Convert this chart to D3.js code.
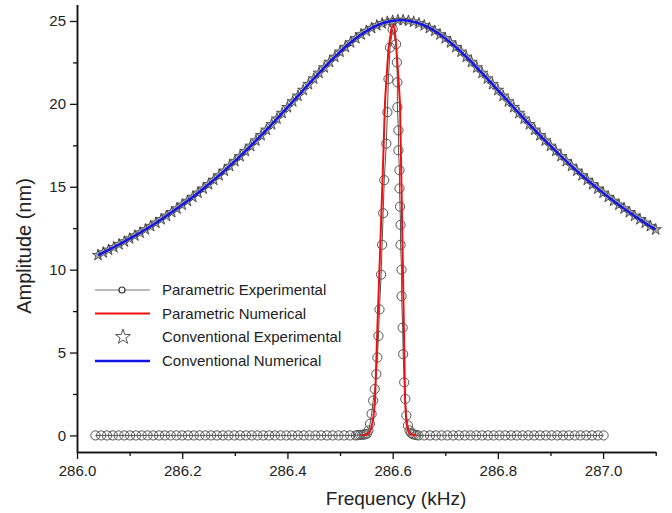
<!DOCTYPE html>
<html><head><meta charset="utf-8">
<script src="https://cdn.jsdelivr.net/npm/d3@7"></script>
<style>
body{margin:0;background:#fff;}
svg{display:block;font-family:"Liberation Sans",Arial,sans-serif;}
</style></head>
<body><svg id="chart" width="672" height="513"></svg>
<script>
// ---------- data ----------
const xMajorTicks = [286.0, 286.2, 286.4, 286.6, 286.8, 287.0];
const xMinorTicks = [286.1, 286.3, 286.5, 286.7, 286.9, 287.1];
const yMajorTicks = [0, 5, 10, 15, 20, 25];
const yMinorTicks = [2.5, 7.5, 12.5, 17.5, 22.5];

const legendLabels = ["Parametric Experimental", "Parametric Numerical", "Conventional Experimental", "Conventional Numerical"];

// Parametric experimental [frequency kHz, amplitude nm]
const paraExp = [
 [286.035,0],[286.046,0],[286.057,0],[286.068,0],[286.079,0],[286.090,0],[286.101,0],[286.112,0],[286.123,0],[286.134,0],
 [286.145,0],[286.156,0],[286.167,0],[286.178,0],[286.189,0],[286.200,0],[286.211,0],[286.222,0],[286.233,0],[286.244,0],
 [286.255,0],[286.266,0],[286.277,0],[286.288,0],[286.299,0],[286.310,0],[286.321,0],[286.332,0],[286.343,0],[286.354,0],
 [286.365,0],[286.376,0],[286.387,0],[286.398,0],[286.409,0],[286.420,0],[286.431,0],[286.442,0],[286.453,0],[286.464,0],
 [286.475,0],[286.486,0],[286.497,0],[286.508,0],[286.519,0],[286.530,0],
 [286.534,0.02],[286.538,0.03],[286.542,0.04],[286.545,0.05],[286.548,0.07],[286.551,0.1],[286.554,0.3],
 [286.557,0.7],[286.560,1.3],[286.563,2.1],[286.566,2.8],[286.569,3.7],[286.571,4.7],[286.573,6.0],[286.575,7.6],
 [286.578,9.7],[286.580,11.5],[286.582,13.4],[286.584,15.4],[286.588,17.6],[286.590,19.5],[286.592,21.5],[286.595,23.4],[286.600,24.5],
 [286.6065,23.6],[286.608,22.5],[286.609,21.3],[286.609,19.8],[286.611,18.4],[286.611,17.2],[286.613,16.0],[286.613,14.9],
 [286.614,13.8],[286.615,12.7],[286.615,11.5],[286.617,10.0],[286.617,8.4],[286.619,6.5],[286.620,4.9],[286.622,3.2],[286.624,2.2],
 [286.626,1.2],[286.629,0.6],[286.632,0.3],[286.635,0.15],[286.638,0.08],[286.641,0.05],[286.645,0.02],
 [286.649,0],[286.660,0],[286.671,0],[286.682,0],[286.693,0],[286.704,0],[286.715,0],[286.726,0],[286.737,0],[286.748,0],
 [286.759,0],[286.770,0],[286.781,0],[286.792,0],[286.803,0],[286.814,0],[286.825,0],[286.836,0],[286.847,0],[286.858,0],
 [286.869,0],[286.880,0],[286.891,0],[286.902,0],[286.913,0],[286.924,0],[286.935,0],[286.946,0],[286.957,0],[286.968,0],
 [286.979,0],[286.990,0],[287.001,0]
];

// Parametric numerical
const paraNum = [
 [286.540,0],[286.548,0.03],[286.555,0.15],[286.559,0.4],[286.563,1.0],[286.5665,2.1],[286.571,6.5],[286.576,11.0],
 [286.581,15.6],[286.5856,20.2],[286.592,23.3],[286.598,24.6],[286.601,24.75],[286.604,24.5],[286.607,23.4],[286.6105,21.8],
 [286.614,20.0],[286.6168,15.0],[286.6195,10.0],[286.6221,5.0],[286.6236,2.1],[286.626,0.8],[286.629,0.3],[286.633,0.1],
 [286.640,0.02],[286.645,0]
];

// Conventional experimental (stars)
const convExp = [
 [286.04,10.87],[286.05,11.03],[286.06,11.19],[286.07,11.35],[286.08,11.52],[286.09,11.69],[286.10,11.87],[286.11,12.05],
 [286.12,12.23],[286.13,12.42],[286.14,12.62],[286.15,12.82],[286.16,13.03],[286.17,13.24],[286.18,13.46],[286.19,13.68],
 [286.20,13.91],[286.21,14.14],[286.22,14.38],[286.23,14.63],[286.24,14.88],[286.25,15.14],[286.26,15.41],[286.27,15.68],
 [286.28,15.96],[286.29,16.25],[286.30,16.54],[286.31,16.84],[286.32,17.15],[286.33,17.46],[286.34,17.78],[286.35,18.10],
 [286.36,18.43],[286.37,18.76],[286.38,19.10],[286.39,19.44],[286.40,19.79],[286.41,20.14],[286.42,20.48],[286.43,20.83],
 [286.44,21.18],[286.45,21.52],[286.46,21.86],[286.47,22.19],[286.48,22.52],[286.49,22.83],[286.50,23.14],[286.51,23.42],
 [286.52,23.70],[286.53,23.95],[286.54,24.18],[286.55,24.39],[286.56,24.57],[286.57,24.73],[286.58,24.85],[286.59,24.95],
 [286.60,25.01],[286.61,25.05],[286.62,25.05],[286.63,25.01],[286.64,24.95],[286.65,24.85],[286.66,24.73],[286.67,24.57],
 [286.68,24.39],[286.69,24.18],[286.70,23.95],[286.71,23.70],[286.72,23.42],[286.73,23.14],[286.74,22.83],[286.75,22.52],
 [286.76,22.19],[286.77,21.86],[286.78,21.52],[286.79,21.18],[286.80,20.83],[286.81,20.48],[286.82,20.14],[286.83,19.79],
 [286.84,19.44],[286.85,19.10],[286.86,18.76],[286.87,18.43],[286.88,18.10],[286.89,17.78],[286.90,17.46],[286.91,17.15],
 [286.92,16.84],[286.93,16.54],[286.94,16.25],[286.95,15.96],[286.96,15.68],[286.97,15.41],[286.98,15.14],[286.99,14.88],
 [287.00,14.63],[287.01,14.38],[287.02,14.14],[287.03,13.91],[287.04,13.68],[287.05,13.46],[287.06,13.24],[287.07,13.03],
 [287.08,12.82],[287.09,12.62],[287.10,12.42]
];

// Conventional numerical (blue line)
const convNum = [
 [286.04,10.87],[286.06,11.19],[286.08,11.52],[286.10,11.87],[286.12,12.23],[286.14,12.62],[286.16,13.03],[286.18,13.46],
 [286.20,13.91],[286.22,14.38],[286.24,14.88],[286.26,15.41],[286.28,15.96],[286.30,16.54],[286.32,17.15],[286.34,17.78],
 [286.36,18.43],[286.38,19.10],[286.40,19.79],[286.42,20.48],[286.44,21.18],[286.46,21.86],[286.48,22.52],[286.50,23.14],
 [286.52,23.70],[286.54,24.18],[286.56,24.57],[286.58,24.85],[286.60,25.01],[286.62,25.05],[286.64,24.95],[286.66,24.73],
 [286.68,24.39],[286.70,23.95],[286.72,23.42],[286.74,22.83],[286.76,22.19],[286.78,21.52],[286.80,20.83],[286.82,20.14],
 [286.84,19.44],[286.86,18.76],[286.88,18.10],[286.90,17.46],[286.92,16.84],[286.94,16.25],[286.96,15.68],[286.98,15.14],
 [287.00,14.63],[287.02,14.14],[287.04,13.68],[287.06,13.24],[287.08,12.82],[287.10,12.42]
];

// ---------- drawing ----------
const svg = d3.select("#chart");
const x = d3.scaleLinear().domain([286.0, 287.1]).range([77, 655.7]);
const y = d3.scaleLinear().domain([-1, 26]).range([452, 4.4]);

const plot = svg.append("g");

// stars
const star = d3.symbol().type(d3.symbolStar).size(40);
plot.append("g").selectAll("path").data(convExp).join("path")
  .attr("d", star)
  .attr("transform", d => `translate(${x(d[0])},${y(d[1])})`)
  .attr("fill", "#b0b0b0").attr("stroke", "#333").attr("stroke-width", 0.8);

// blue line
const line = d3.line().x(d => x(d[0])).y(d => y(d[1])).curve(d3.curveMonotoneX);
plot.append("path").datum(convNum).attr("d", line)
  .attr("fill", "none").attr("stroke", "#1414e6").attr("stroke-width", 2.4);

// parametric experimental gray line + circles
const lineRaw = d3.line().x(d => x(d[0])).y(d => y(d[1]));
plot.append("path").datum(paraExp).attr("d", lineRaw)
  .attr("fill", "none").attr("stroke", "#555").attr("stroke-width", 1);
plot.append("g").selectAll("circle").data(paraExp).join("circle")
  .attr("cx", d => x(d[0])).attr("cy", d => y(d[1])).attr("r", 4.6)
  .attr("fill", "none").attr("stroke", "#555").attr("stroke-width", 1);

// red line
plot.append("path").datum(paraNum).attr("d", lineRaw)
  .attr("fill", "none").attr("stroke", "#f01010").attr("stroke-width", 2);

// axes
const axes = svg.append("g").attr("font-size", 15);
const gx = axes.append("g").attr("transform", "translate(0,452)")
  .call(d3.axisBottom(x).tickValues(xMajorTicks).tickFormat(d3.format(".1f")).tickSize(7).tickPadding(6).tickSizeOuter(0));
const gxm = axes.append("g").attr("transform", "translate(0,452)")
  .call(d3.axisBottom(x).tickValues(xMinorTicks).tickFormat("").tickSize(4).tickSizeOuter(0));
const gy = axes.append("g").attr("transform", "translate(77,0)")
  .call(d3.axisLeft(y).tickValues(yMajorTicks).tickSize(7).tickPadding(4).tickSizeOuter(0));
const gym = axes.append("g").attr("transform", "translate(77,0)")
  .call(d3.axisLeft(y).tickValues(yMinorTicks).tickFormat("").tickSize(4).tickSizeOuter(0));
[gx, gxm, gy, gym].forEach(g => {
  g.selectAll("text").attr("fill", "#222").attr("font-family", "Liberation Sans, Arial, sans-serif").attr("font-size", 15);
  g.selectAll("line").attr("stroke", "#111").attr("stroke-width", 1.3);
  g.select(".domain").attr("stroke", "#111").attr("stroke-width", 1.5);
});

// axis titles
svg.append("text").attr("x", 396).attr("y", 505).attr("text-anchor", "middle")
  .attr("font-size", 19).attr("fill", "#222").text("Frequency (kHz)");
svg.append("text").attr("transform", "translate(31,246) rotate(-90)").attr("text-anchor", "middle")
  .attr("font-size", 20).attr("fill", "#222").text("Amplitude (nm)");

// legend
const legendY = [290, 313.5, 337, 361];
const lg = svg.append("g").attr("font-size", 15).attr("fill", "#222");
lg.append("line").attr("x1", 95).attr("x2", 150).attr("y1", legendY[0]).attr("y2", legendY[0]).attr("stroke", "#777").attr("stroke-width", 1);
lg.append("circle").attr("cx", 122).attr("cy", legendY[0]).attr("r", 3).attr("fill", "#fff").attr("stroke", "#333").attr("stroke-width", 1.2);
lg.append("line").attr("x1", 95).attr("x2", 150).attr("y1", legendY[1]).attr("y2", legendY[1]).attr("stroke", "#f01010").attr("stroke-width", 2);
lg.append("path").attr("d", d3.symbol().type(d3.symbolStar).size(70)).attr("transform", `translate(123,${legendY[2]})`)
  .attr("fill", "#fff").attr("stroke", "#555").attr("stroke-width", 1);
lg.append("line").attr("x1", 95).attr("x2", 150).attr("y1", legendY[3]).attr("y2", legendY[3]).attr("stroke", "#1414e6").attr("stroke-width", 2.4);
lg.selectAll("text.lab").data(legendLabels).join("text").attr("class", "lab")
  .attr("x", 162).attr("y", (d, i) => legendY[i] + 5).text(d => d);
</script></body></html>
